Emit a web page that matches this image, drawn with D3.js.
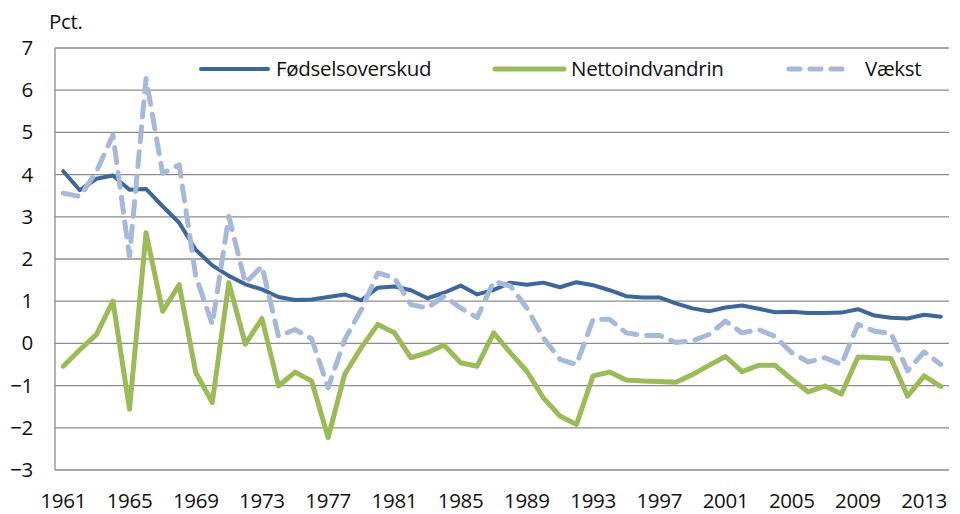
<!DOCTYPE html>
<html>
<head>
<meta charset="utf-8">
<script src="https://cdn.jsdelivr.net/npm/d3@7"></script>
<style>
  body { margin: 0; background: #fff; }
  text { font-family: "Open Sans", "Noto Sans", sans-serif; fill: #111; }
</style>
</head>
<body>
<div id="chart"></div>
<script>
// Data (percent)
var years = d3.range(1961, 2015);
var yTicks = [-3, -2, -1, 0, 1, 2, 3, 4, 5, 6, 7];
var xTickYears = [1961, 1965, 1969, 1973, 1977, 1981, 1985, 1989, 1993, 1997, 2001, 2005, 2009, 2013];

var foedsel = [4.08, 3.63, 3.9, 3.98, 3.64, 3.66, 3.25, 2.86, 2.22, 1.85, 1.6, 1.4, 1.28, 1.1,
  1.03, 1.04, 1.1, 1.16, 1.02, 1.32, 1.35, 1.26, 1.07, 1.2, 1.37, 1.16, 1.27, 1.44, 1.39, 1.44,
  1.33, 1.45, 1.38, 1.26, 1.12, 1.09, 1.09, 0.95, 0.83, 0.76, 0.85, 0.9, 0.82, 0.74, 0.75, 0.72,
  0.72, 0.73, 0.81, 0.66, 0.61, 0.59, 0.68, 0.63];

var netto = [-0.54, -0.15, 0.21, 1.0, -1.56, 2.62, 0.76, 1.39, -0.69, -1.4, 1.44, -0.02, 0.59, -1.01,
  -0.68, -0.89, -2.23, -0.73, -0.1, 0.45, 0.25, -0.34, -0.22, -0.04, -0.46, -0.54, 0.25, -0.22, -0.66, -1.29,
  -1.72, -1.92, -0.77, -0.68, -0.87, -0.89, -0.9, -0.92, -0.74, -0.52, -0.31, -0.67, -0.52, -0.52, -0.85, -1.15,
  -1.01, -1.2, -0.32, -0.34, -0.36, -1.25, -0.77, -1.02];

var vaekst = [3.56, 3.48, 4.07, 4.94, 2.06, 6.28, 4.03, 4.23, 1.6, 0.45, 3.01, 1.43, 1.83, 0.17,
  0.33, 0.11, -1.05, 0.09, 0.8, 1.67, 1.55, 0.92, 0.84, 1.12, 0.84, 0.61, 1.47, 1.36, 0.84, 0.13,
  -0.38, -0.5, 0.57, 0.57, 0.25, 0.19, 0.19, 0.02, 0.06, 0.21, 0.53, 0.25, 0.33, 0.16, -0.22, -0.44,
  -0.34, -0.5, 0.45, 0.29, 0.24, -0.65, -0.2, -0.5];

var seriesNames = ["Fødselsoverskud", "Nettoindvandrin", "Vækst"];

// Chart set up
var svgWidth = 960;
var svgHeight = 514;
var margin = { top: 48, right: 11, bottom: 44, left: 55 };
var width = svgWidth - margin.left - margin.right;
var height = svgHeight - margin.top - margin.bottom;
var fontSize = 20.5;

var svg = d3.select("#chart")
  .append("svg")
  .attr("width", svgWidth)
  .attr("height", svgHeight);

var chartGroup = svg.append("g")
  .attr("transform", `translate(${margin.left}, ${margin.top})`);

// scales
var xScale = d3.scaleBand()
  .domain(years)
  .range([0, width]);

var yScale = d3.scaleLinear()
  .domain([-3, 7])
  .range([height, 0]);

// gridlines
chartGroup.append("g")
  .selectAll("line")
  .data(yTicks)
  .enter()
  .append("line")
  .attr("x1", 0)
  .attr("x2", width)
  .attr("y1", d => yScale(d))
  .attr("y2", d => yScale(d))
  .attr("stroke", "#8c8c8c")
  .attr("stroke-width", 1.3);

chartGroup.append("line")
  .attr("x1", 0).attr("x2", 0)
  .attr("y1", 0).attr("y2", height)
  .attr("stroke", "#8c8c8c")
  .attr("stroke-width", 1.3);

// axes
var leftAxis = d3.axisLeft(yScale).tickValues(yTicks).tickSize(0).tickPadding(22);
var bottomAxis = d3.axisBottom(xScale).tickValues(xTickYears).tickSize(0).tickPadding(23);

var yAxisG = chartGroup.append("g").call(leftAxis);
var xAxisG = chartGroup.append("g")
  .attr("transform", `translate(0, ${height})`)
  .call(bottomAxis);

[yAxisG, xAxisG].forEach(function (g) {
  g.select(".domain").remove();
  g.selectAll("text")
    .attr("font-family", "'Open Sans', sans-serif")
    .attr("font-size", fontSize)
    .attr("letter-spacing", -0.3)
    .attr("fill", "#111");
});

svg.append("text")
  .attr("x", 49)
  .attr("y", 29)
  .attr("font-size", fontSize)
  .attr("letter-spacing", -0.3)
  .text("Pct.");

// lines
var line = d3.line()
  .x((d, i) => xScale(years[i]) + xScale.bandwidth() / 2)
  .y(d => yScale(d));

var styles = [
  { data: foedsel, color: "#3c6798", width: 4, dash: null },
  { data: netto, color: "#9bbb59", width: 5, dash: null },
  { data: vaekst, color: "#a6b9d8", width: 5, dash: "15,10" }
];

styles.forEach(function (s) {
  chartGroup.append("path")
    .datum(s.data)
    .attr("d", line)
    .attr("fill", "none")
    .attr("stroke", s.color)
    .attr("stroke-width", s.width)
    .attr("stroke-linejoin", "round")
    .attr("stroke-linecap", "round")
    .attr("stroke-dasharray", s.dash);
});

// legend
var legendPos = [
  { x1: 201, x2: 268, tx: 276 },
  { x1: 495, x2: 564, tx: 571 },
  { x1: 789, x2: 849, tx: 865 }
];

var legend = svg.append("g");
seriesNames.forEach(function (name, i) {
  var p = legendPos[i];
  var s = styles[i];
  legend.append("line")
    .attr("x1", p.x1).attr("x2", p.x2)
    .attr("y1", 69).attr("y2", 69)
    .attr("stroke", s.color)
    .attr("stroke-width", s.width)
    .attr("stroke-linecap", "round")
    .attr("stroke-dasharray", s.dash ? "11,10" : null);
  legend.append("text")
    .attr("x", p.tx)
    .attr("y", 76)
    .attr("font-size", fontSize)
    .attr("letter-spacing", -0.3)
    .text(name);
});
</script>
</body>
</html>
